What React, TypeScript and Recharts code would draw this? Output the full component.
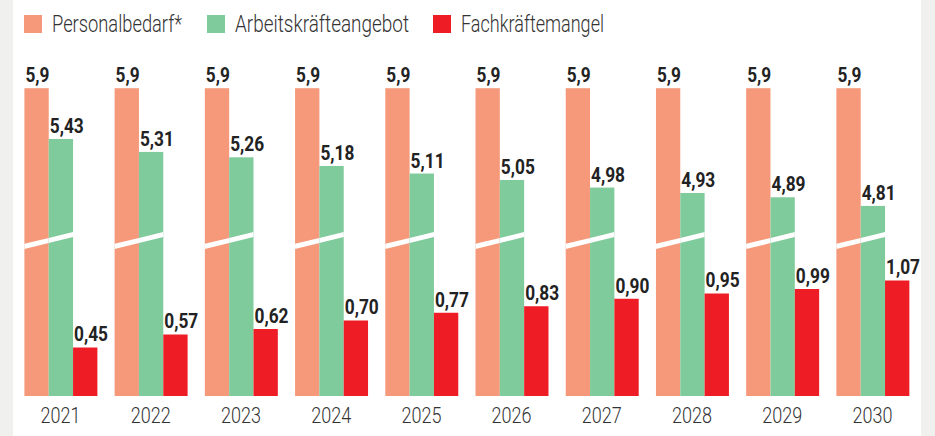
import React from 'react';
import { BarChart, Bar, XAxis, YAxis, LabelList } from 'recharts';

const years = ['2021', '2022', '2023', '2024', '2025', '2026', '2027', '2028', '2029', '2030'];
const personalbedarf = [5.9, 5.9, 5.9, 5.9, 5.9, 5.9, 5.9, 5.9, 5.9, 5.9];
const arbeitskraefteangebot = [5.43, 5.31, 5.26, 5.18, 5.11, 5.05, 4.98, 4.93, 4.89, 4.81];
const fachkraeftemangel = [0.45, 0.57, 0.62, 0.7, 0.77, 0.83, 0.9, 0.95, 0.99, 1.07];

// broken axis: amount removed from the two tall series
const AXIS_CUT = 3.05;
const BREAK_AT = 1.44;

const seriesNames = ['Personalbedarf*', 'Arbeitskräfteangebot', 'Fachkräftemangel'];
const seriesColors = ['#f5997a', '#80cb9c', '#ee1c25'];

const data = years.map((y, i) => ({
  year: y,
  pb: personalbedarf[i] - AXIS_CUT,
  aa: arbeitskraefteangebot[i] - AXIS_CUT,
  fm: fachkraeftemangel[i],
}));

const fmt = (v: number) => v.toFixed(v === 5.9 ? 1 : 2).replace('.', ',');

const SLOPE = 12 / 49;
const HALF = 2.6;

const makeBreakBar = (side: 'left' | 'right', key: 'pb' | 'aa') => (props: any) => {
  const { x, y, width, height, fill, payload } = props;
  const disp = payload[key];
  const ppu = height / disp;
  const base = y + height;
  const yc = base - BREAK_AT * ppu;
  const px = side === 'left' ? x + width : x;
  const yAt = (xx: number) => yc - (xx - px) * SLOPE;
  const pts = [
    [x, yAt(x) - HALF],
    [x + width, yAt(x + width) - HALF],
    [x + width, yAt(x + width) + HALF],
    [x, yAt(x) + HALF],
  ]
    .map((p) => p.join(','))
    .join(' ');
  return (
    <g>
      <rect x={x} y={y} width={width} height={height} fill={fill} />
      <polygon points={pts} fill="#ffffff" />
    </g>
  );
};

const makeLabel = (values: number[]) => (props: any) => {
  const { x, y, index } = props;
  const s = fmt(values[index]);
  const digits = s.replace(',', '').length;
  return (
    <text
      x={x + 1}
      y={y - 6}
      fontSize={20}
      fontWeight={700}
      fontFamily="Roboto, 'Liberation Sans', sans-serif"
      fill="#222222"
      textLength={digits * 10 + 4}
      lengthAdjust="spacingAndGlyphs"
    >
      {s}
    </text>
  );
};

const YearTick = (props: any) => {
  const { x, y, payload } = props;
  return (
    <text
      x={x}
      y={y + 27}
      textAnchor="middle"
      fontSize={22.5}
      fontWeight={300}
      fontFamily="Roboto, 'Liberation Sans', sans-serif"
      fill="#333333"
      textLength={40}
      lengthAdjust="spacingAndGlyphs"
    >
      {payload.value}
    </text>
  );
};

const legendX = [24, 207, 433];
const legendW = [130, 174, 143];

export default function App() {
  return (
    <div style={{ position: 'absolute', left: 0, top: 0, width: 935, height: 436, background: '#ffffff' }}>
      <div style={{ position: 'absolute', left: 0, top: 0, width: 13, height: 436, background: '#f0f1ef' }} />
      <div style={{ position: 'absolute', left: 921, top: 0, width: 14, height: 436, background: '#f0f1ef' }} />
      <svg style={{ position: 'absolute', left: 0, top: 0 }} width={935} height={45}>
        {seriesNames.map((n, i) => (
          <g key={n}>
            <rect x={legendX[i]} y={15} width={18} height={18} fill={seriesColors[i]} />
            <text
              x={legendX[i] + 28}
              y={32}
              fontSize={23}
              fontWeight={300}
              fontFamily="Roboto, 'Liberation Sans', sans-serif"
              fill="#333333"
              textLength={legendW[i]}
              lengthAdjust="spacingAndGlyphs"
            >
              {n}
            </text>
          </g>
        ))}
      </svg>
      <div style={{ position: 'absolute', left: 0, top: 0 }}>
        <BarChart
          width={935}
          height={436}
          data={data}
          margin={{ top: 72, right: 17.4, bottom: 0, left: 15.4 }}
          barGap={0}
          barSize={24.33}
        >
          <XAxis
            dataKey="year"
            axisLine={false}
            tickLine={false}
            tickSize={0}
            tickMargin={0}
            height={40}
            interval={0}
            tick={<YearTick />}
          />
          <YAxis hide domain={[0, 3]} />
          <Bar dataKey="pb" fill={seriesColors[0]} isAnimationActive={false} shape={makeBreakBar('left', 'pb')}>
            <LabelList dataKey="pb" content={makeLabel(personalbedarf)} />
          </Bar>
          <Bar dataKey="aa" fill={seriesColors[1]} isAnimationActive={false} shape={makeBreakBar('right', 'aa')}>
            <LabelList dataKey="aa" content={makeLabel(arbeitskraefteangebot)} />
          </Bar>
          <Bar dataKey="fm" fill={seriesColors[2]} isAnimationActive={false}>
            <LabelList dataKey="fm" content={makeLabel(fachkraeftemangel)} />
          </Bar>
        </BarChart>
      </div>
    </div>
  );
}
